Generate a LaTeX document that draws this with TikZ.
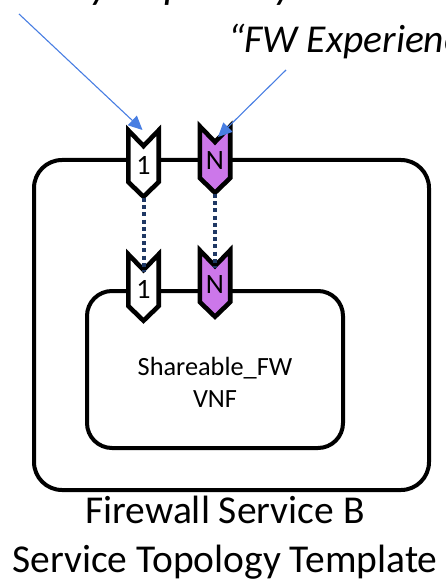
\documentclass[tikz,border=0pt]{standalone}
\usepackage{fontspec}
\setmainfont{Carlito}
\usetikzlibrary{arrows.meta}

\definecolor{callout}{RGB}{72,126,226}
\definecolor{portpurple}{RGB}{204,119,234}
\definecolor{linknavy}{RGB}{31,56,100}

\tikzset{
  frame/.style={draw=black, line width=4pt, rounded corners=#1},
  portedge/.style={draw=black, line width=4.6pt, line join=miter},
  portlabel/.style={font=\fontsize{28}{30}\selectfont, inner sep=0pt},
  calloutarrow/.style={draw=callout, line width=1.1pt,
    -{Triangle[length=14pt,width=13pt]}},
  portlink/.style={draw=linknavy, line width=4pt, dash pattern=on 4pt off 3.2pt},
  bigtext/.style={font=\fontsize{39.5}{50}\selectfont, inner sep=0pt},
  pics/port/.style 2 args={code={
    \draw[portedge, fill=#1]
      (-15.2,-32.7) -- (0,-17) -- (15.2,-32.7) -- (15.2,19) -- (0,33.7) -- (-15.2,19) -- cycle;
    \node[portlabel] (-label) at (0,2) {#2};
    \coordinate (-tip) at (0,35);
    \coordinate (-notch) at (0,-15);
    \coordinate (-top) at (0,-34);
  }}
}

\begin{document}
\begin{tikzpicture}[x=1pt, y=-1pt]
  \useasboundingbox (0,0) rectangle (445,585);

  % service template and the VNF inside it
  \draw[frame=28pt] (34,160) rectangle (429,490);
  \draw[frame=25pt] (87,291) rectangle (343,448);
  \node[font=\fontsize{26.3}{32}\selectfont, align=center, inner sep=0pt]
    (vnf) at (215,382) {Shareable\_FW\\VNF};

  % connection points on the template boundary and on the VNF
  \pic (p1) at (143.5,163) {port={white}{1}};
  \pic (pN) at (215,159) {port={portpurple}{N}};
  \pic (v1) at (143.5,287) {port={white}{1}};
  \pic (vN) at (215,283) {port={portpurple}{N}};

  % mapping of template ports onto VNF ports
  \draw[portlink] (p1-tip) -- (v1-notch);
  \draw[portlink] (pN-tip) -- (vN-notch);

  % callout texts
  \node[bigtext, font=\fontsize{43}{50}\selectfont\itshape, anchor=base west]
    (anycap) at (30,-1) {“Any Capability”};
  \node[bigtext, font=\fontsize{39.5}{50}\selectfont\itshape, anchor=base west]
    (fwexp) at (228,53) {“FW Experience”};
  \coordinate (anytail) at (19,14);
  \coordinate (fwtail) at (286,70);
  \draw[calloutarrow] (anytail) -- ([xshift=-1pt,yshift=-1pt]p1-top);
  \draw[calloutarrow] (fwtail) -- ([xshift=3pt,yshift=-12pt]pN-top);

  % caption
  \node[bigtext, anchor=base] (cap1) at (225,523) {Firewall Service B};
  \node[bigtext, anchor=base] (cap2) at (225,572) {Service Topology Template};
\end{tikzpicture}
\end{document}
